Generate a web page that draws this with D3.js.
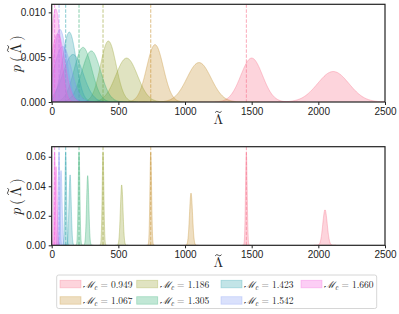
<!DOCTYPE html>
<html>
<head>
<meta charset="utf-8">
<script src="https://cdn.jsdelivr.net/npm/d3@7"></script>
<style>
body { margin: 0; background: #fff; }
svg { font-family: "Latin Modern Roman", "CMU Serif", "Liberation Serif", "DejaVu Serif", serif; }
.tick text { font-size: 10px; fill: #222; }
.tick line { stroke: #222; }
.domain { display: none; }
</style>
</head>
<body>
<svg id="main-svg" width="399" height="314"></svg>
<script>
// chirp masses, one colour each
var chirpMasses = ['0.949', '1.067', '1.186', '1.305', '1.423', '1.542', '1.660'];
var colors = ['#f7708a', '#c69132', '#97a332', '#33af73', '#35a7b1', '#839af4', '#f45edd'];

// injected (true) lambda values -> dashed lines
var trueLambda = [1460, 743, 385, 205, 105, 55, 22];

// top panel: two broad posteriors per mass (centre, peak height)
var topNearMean = [1500, 775, 425, 235, 132, 62, 30];
var topNearPeak = [0.0049, 0.0064, 0.0068, 0.0061, 0.0078, 0.0081, 0.0104];
var topFarMean  = [2112, 1105, 562, 297, 160, 82, 45];
var topFarPeak  = [0.0034, 0.0044, 0.0049, 0.0057, 0.0053, 0.0062, 0.0076];

// bottom panel: narrow posteriors (centre, peak height)
var botNearMean = [1460, 743, 385, 205, 105, 55, 22];
var botNearPeak = [0.063, 0.063, 0.063, 0.063, 0.063, 0.063, 0.063];
var botFarMean  = [2050, 1045, 525, 270, 138, 70, 33];
var botFarPeak  = [0.0240, 0.0353, 0.0409, 0.0472, 0.0477, 0.0506, 0.0533];

var xTicks = [0, 500, 1000, 1500, 2000, 2500];
var topTicks = [0, 0.005, 0.010];
var botTicks = [0, 0.02, 0.04, 0.06];

var svg = d3.select('#main-svg');
var x = d3.scaleLinear().domain([0, 2500]).range([51.7, 385]);

// normalised gaussian given its peak height
function density(mean, peak, step) {
    var sd = 1 / (peak * Math.sqrt(2 * Math.PI));
    var pts = [];
    var lo = Math.max(0, mean - 5 * sd), hi = Math.min(2500, mean + 5 * sd);
    for (var v = lo; v <= hi; v += step) {
        pts.push([v, peak * Math.exp(-0.5 * Math.pow((v - mean) / sd, 2))]);
    }
    pts.push([hi, peak * Math.exp(-0.5 * Math.pow((hi - mean) / sd, 2))]);
    return pts;
}

// Lambda with a small tilde stroke above it
function lambdaTilde(sel, size) {
    sel.append('text').attr('text-anchor', 'middle').attr('font-size', size)
        .attr('fill', '#222').text('Λ');
    var s = size / 14;
    sel.append('path')
        .attr('d', 'M-3.2,0.6 Q-1.6,-1.6 0,0 T3.2,-0.6')
        .attr('transform', 'translate(0,' + (-size * 0.86) + ') scale(' + s + ')')
        .attr('fill', 'none').attr('stroke', '#222').attr('stroke-width', 0.8 / s);
}

function panel(top, bottom, ymax, ticks, fmt, near, nearPk, far, farPk, step) {
    var y = d3.scaleLinear().domain([0, ymax]).range([bottom, top]);
    var g = svg.append('g');
    var clipId = 'clip' + Math.round(top);
    g.append('clipPath').attr('id', clipId).append('rect')
        .attr('x', x(0)).attr('y', top).attr('width', x(2500) - x(0)).attr('height', bottom - top);
    var plot = g.append('g').attr('clip-path', 'url(#' + clipId + ')');

    var area = d3.area().x(function(d) { return x(d[0]); })
        .y0(y(0)).y1(function(d) { return y(d[1]); });
    var line = d3.line().x(function(d) { return x(d[0]); })
        .y(function(d) { return y(d[1]); });

    for (var i = 0; i < chirpMasses.length; ++i) {
        var curves = [density(near[i], nearPk[i], step), density(far[i], farPk[i], step)];
        curves.forEach(function(c) {
            plot.append('path').datum(c).attr('d', area)
                .attr('fill', colors[i]).attr('fill-opacity', 0.3);
            plot.append('path').datum(c).attr('d', line)
                .attr('fill', 'none').attr('stroke', colors[i]).attr('stroke-opacity', 0.35).attr('stroke-width', 1);
        });
        plot.append('line')
            .attr('x1', x(trueLambda[i])).attr('x2', x(trueLambda[i]))
            .attr('y1', top).attr('y2', bottom)
            .attr('stroke', colors[i]).attr('stroke-opacity', 0.6)
            .attr('stroke-width', 1).attr('stroke-dasharray', '3.5,1.5');
    }

    // frame
    g.append('rect').attr('x', x(0)).attr('y', top)
        .attr('width', x(2500) - x(0)).attr('height', bottom - top)
        .attr('fill', 'none').attr('stroke', '#222').attr('stroke-width', 1.2);

    g.append('g').attr('transform', 'translate(0,' + bottom + ')')
        .call(d3.axisBottom(x).tickValues(xTicks).tickSize(3).tickPadding(3).tickFormat(d3.format('d')));
    g.append('g').attr('transform', 'translate(' + x(0) + ',0)')
        .call(d3.axisLeft(y).tickValues(ticks).tickSize(3).tickPadding(3).tickFormat(fmt));

    // y label: p(Lambda~)
    var yl = g.append('g')
        .attr('transform', 'translate(21,' + ((top + bottom) / 2) + ') rotate(-90)');
    yl.append('text').attr('x', -16).attr('text-anchor', 'middle').attr('font-size', 15)
        .attr('font-style', 'italic').attr('fill', '#222').text('p');
    yl.append('text').attr('x', -6).attr('text-anchor', 'middle').attr('font-size', 15)
        .attr('fill', '#222').text('(');
    lambdaTilde(yl.append('g').attr('transform', 'translate(4.5,0)'), 15);
    yl.append('text').attr('x', 15).attr('text-anchor', 'middle').attr('font-size', 15)
        .attr('fill', '#222').text(')');

    // x label
    lambdaTilde(g.append('g').attr('transform', 'translate(' + ((x(0) + x(2500)) / 2) + ',' + (bottom + 22) + ')'), 14);
}

panel(4.3, 102, 0.0109, topTicks, d3.format('.3f'), topNearMean, topNearPeak, topFarMean, topFarPeak, 2);
panel(146.7, 245.3, 0.0668, botTicks, d3.format('.2f'), botNearMean, botNearPeak, botFarMean, botFarPeak, 0.5);

// legend, 4 columns filled column-wise
var leg = svg.append('g');
leg.append('rect').attr('x', 56.7).attr('y', 275).attr('width', 320).attr('height', 33.5)
    .attr('rx', 2).attr('fill', '#fff').attr('stroke', '#ccc').attr('stroke-width', 0.8);
var colX = [60, 136.7, 221, 301];
var rowY = [284.3, 300.7];
chirpMasses.forEach(function(m, i) {
    var cx = colX[Math.floor(i / 2)], cy = rowY[i % 2];
    leg.append('rect').attr('x', cx).attr('y', cy - 4).attr('width', 21).attr('height', 7.5)
        .attr('fill', colors[i]).attr('fill-opacity', 0.3)
        .attr('stroke', colors[i]).attr('stroke-opacity', 0.35).attr('stroke-width', 0.8);
    var t = leg.append('text').attr('x', cx + 23).attr('y', cy + 3.5)
        .attr('font-size', 9.5).attr('fill', '#222');
    t.append('tspan').attr('font-style', 'italic').text('ℳ');
    t.append('tspan').attr('font-style', 'italic').attr('font-size', 7).attr('dy', 2).text('c');
    t.append('tspan').attr('dy', -2).text(' = ' + m);
});
</script>
</body>
</html>
